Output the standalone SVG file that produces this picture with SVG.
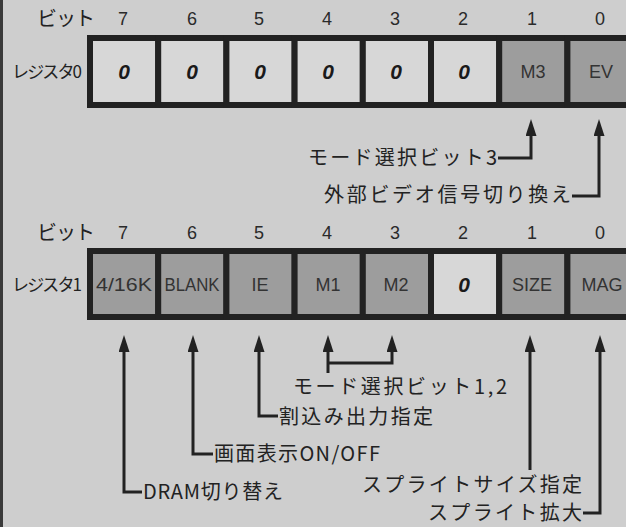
<svg xmlns="http://www.w3.org/2000/svg" width="626" height="527" viewBox="0 0 626 527">
<style>
.bg{fill:#cecece}
.cell{stroke:#222;stroke-width:6;stroke-linejoin:miter}
.lt{fill:#d7d7d7}
.dk{fill:#9d9d9d}
.num{font-family:"Liberation Sans",Arial,sans-serif;font-size:18px;fill:#2a2a2a;text-anchor:middle}
.jp{font-family:"Noto Sans CJK JP","Noto Sans",sans-serif;font-size:20px;fill:#222}
.reg{font-family:"Noto Sans CJK JP","Noto Sans",sans-serif;font-size:17px;fill:#222}
.lab{font-family:"Liberation Sans",Arial,sans-serif;font-size:18px;fill:#333;text-anchor:middle}
.zero{font-family:"Liberation Sans",Arial,sans-serif;font-size:21px;font-weight:bold;font-style:italic;fill:#1a1a1a;text-anchor:middle}
.con{fill:none;stroke:#222;stroke-width:3;stroke-linejoin:miter}
</style>
<defs>
<marker id="ah" viewBox="0 0 17 11" refX="7" refY="5.5" markerWidth="17" markerHeight="11" markerUnits="userSpaceOnUse" orient="auto">
<path d="M0,0 L17,5.5 L0,11 z" fill="#222"/>
</marker>
</defs>
<rect class="bg" x="0" y="0" width="626" height="527"/>
<rect x="0" y="0" width="3" height="527" fill="#3a3a3a"/>

<g id="header0">
<text class="jp" x="37" y="26" textLength="58" lengthAdjust="spacing">ビット</text>
<text class="num" x="123" y="25">7</text>
<text class="num" x="192" y="25">6</text>
<text class="num" x="259" y="25">5</text>
<text class="num" x="327" y="25">4</text>
<text class="num" x="395" y="25">3</text>
<text class="num" x="463" y="25">2</text>
<text class="num" x="532" y="25">1</text>
<text class="num" x="600" y="25">0</text>
</g>
<g id="register0">
<text class="reg" x="12" y="78" textLength="70" lengthAdjust="spacing">レジスタ0</text>
<g id="r0b7"><rect class="cell lt" x="90" y="38" width="68.2" height="67"/><text class="zero" x="124" y="79">0</text></g>
<g id="r0b6"><rect class="cell lt" x="158.2" y="38" width="68.2" height="67"/><text class="zero" x="192" y="79">0</text></g>
<g id="r0b5"><rect class="cell lt" x="226.4" y="38" width="68.2" height="67"/><text class="zero" x="260" y="79">0</text></g>
<g id="r0b4"><rect class="cell lt" x="294.6" y="38" width="68.2" height="67"/><text class="zero" x="328" y="79">0</text></g>
<g id="r0b3"><rect class="cell lt" x="362.8" y="38" width="68.2" height="67"/><text class="zero" x="396" y="79">0</text></g>
<g id="r0b2"><rect class="cell lt" x="431" y="38" width="68.2" height="67"/><text class="zero" x="464" y="79">0</text></g>
<g id="r0b1"><rect class="cell dk" x="499.2" y="38" width="68.2" height="67"/><text class="lab" x="533" y="78">M3</text></g>
<g id="r0b0"><rect class="cell dk" x="567.4" y="38" width="68.2" height="67"/><text class="lab" x="601" y="78">EV</text></g>
</g>

<g id="header1">
<text class="jp" x="37" y="240" textLength="58" lengthAdjust="spacing">ビット</text>
<text class="num" x="123" y="239">7</text>
<text class="num" x="192" y="239">6</text>
<text class="num" x="259" y="239">5</text>
<text class="num" x="327" y="239">4</text>
<text class="num" x="395" y="239">3</text>
<text class="num" x="463" y="239">2</text>
<text class="num" x="532" y="239">1</text>
<text class="num" x="600" y="239">0</text>
</g>
<g id="register1">
<text class="reg" x="12" y="291" textLength="70" lengthAdjust="spacing">レジスタ1</text>
<g id="r1b7"><rect class="cell dk" x="90" y="251" width="68.2" height="66"/><text class="lab" x="124" y="291" textLength="56" lengthAdjust="spacingAndGlyphs">4/16K</text></g>
<g id="r1b6"><rect class="cell dk" x="158.2" y="251" width="68.2" height="66"/><text class="lab" x="192" y="291" textLength="55" lengthAdjust="spacingAndGlyphs">BLANK</text></g>
<g id="r1b5"><rect class="cell dk" x="226.4" y="251" width="68.2" height="66"/><text class="lab" x="260" y="291">IE</text></g>
<g id="r1b4"><rect class="cell dk" x="294.6" y="251" width="68.2" height="66"/><text class="lab" x="328" y="291">M1</text></g>
<g id="r1b3"><rect class="cell dk" x="362.8" y="251" width="68.2" height="66"/><text class="lab" x="396" y="291">M2</text></g>
<g id="r1b2"><rect class="cell lt" x="431" y="251" width="68.2" height="66"/><text class="zero" x="464" y="292">0</text></g>
<g id="r1b1"><rect class="cell dk" x="499.2" y="251" width="68.2" height="66"/><text class="lab" x="532" y="291">SIZE</text></g>
<g id="r1b0"><rect class="cell dk" x="567.4" y="251" width="68.2" height="66"/><text class="lab" x="602" y="291">MAG</text></g>
</g>

<g id="connectors">
<path class="con" d="M498,158 H531 V129" marker-end="url(#ah)"/>
<path class="con" d="M572,196 H599 V129" marker-end="url(#ah)"/>
<path class="con" d="M142,492 H124 V345" marker-end="url(#ah)"/>
<path class="con" d="M213,454 H193 V345" marker-end="url(#ah)"/>
<path class="con" d="M278,416 H259 V345" marker-end="url(#ah)"/>
<path class="con" d="M328,373 V345" marker-end="url(#ah)"/>
<path class="con" d="M328,363 H392 V345" marker-end="url(#ah)"/>
<path class="con" d="M530,470 V345" marker-end="url(#ah)"/>
<path class="con" d="M583,513 H600 V345" marker-end="url(#ah)"/>
</g>

<g id="labels">
<text id="l-m3" class="jp" x="308" y="165" textLength="189" lengthAdjust="spacing">モード選択ビット3</text>
<text id="l-ev" class="jp" x="324" y="202" textLength="247" lengthAdjust="spacing">外部ビデオ信号切り換え</text>
<text id="l-m12" class="jp" x="293" y="394" textLength="214" lengthAdjust="spacing">モード選択ビット1,2</text>
<text id="l-ie" class="jp" x="279" y="424" textLength="154" lengthAdjust="spacing">割込み出力指定</text>
<text id="l-blank" class="jp" x="214" y="461" textLength="166" lengthAdjust="spacing">画面表示ON/OFF</text>
<text id="l-dram" class="jp" x="143" y="499" textLength="140" lengthAdjust="spacing">DRAM切り替え</text>
<text id="l-size" class="jp" x="362" y="492" textLength="220" lengthAdjust="spacing">スプライトサイズ指定</text>
<text id="l-mag" class="jp" x="428" y="520" textLength="154" lengthAdjust="spacing">スプライト拡大</text>
</g>
</svg>
